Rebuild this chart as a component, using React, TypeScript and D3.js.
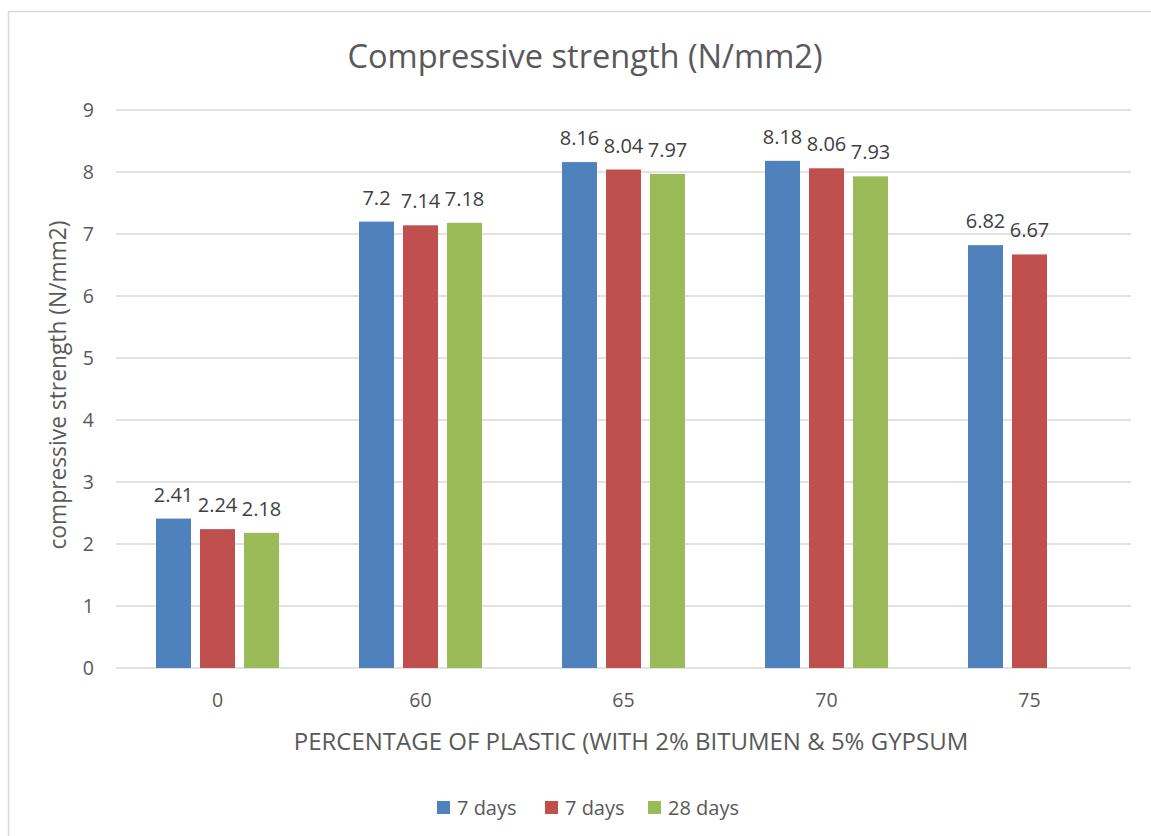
import React from "react";
import * as d3 from "d3";

const categories = ["0", "60", "65", "70", "75"];
const seriesNames = ["7 days", "7 days", "28 days"];
const seriesColors = ["#4F81BD", "#C0504D", "#9BBB59"];
const series1 = [2.41, 7.2, 8.16, 8.18, 6.82];
const series2 = [2.24, 7.14, 8.04, 8.06, 6.67];
const series3: (number | null)[] = [2.18, 7.18, 7.97, 7.93, null];
const yTicks = [0, 1, 2, 3, 4, 5, 6, 7, 8, 9];

const W = 1151, H = 836;
const FONT = "'Open Sans', sans-serif";

export default function App() {
  const left = 116, right = 1131, top = 110, bottom = 668;
  const x = d3.scaleBand().domain(categories).range([left, right]).paddingInner(0).paddingOuter(0);
  const y = d3.scaleLinear().domain([0, 9]).range([bottom, top]);
  const bw = 35, gap = 9;
  const groupW = 3 * bw + 2 * gap;
  const all = [series1, series2, series3];
  const fmt = (v: number) => String(v);

  return (
    <svg width={W} height={H} style={{ position: "absolute", left: 0, top: 0, background: "#fff" }} fontFamily={FONT}>
      <rect x={0} y={0} width={W} height={H} fill="#fff" />
      <rect x={8.5} y={11.5} width={1200} height={900} fill="#fff" stroke="#D9D9D9" strokeWidth={1.5} />
      <text x={585} y={68} textAnchor="middle" fontSize={32.6} fill="#595959">Compressive strength (N/mm2)</text>
      {yTicks.map((t) => (
        <g key={t}>
          <line x1={left} x2={right} y1={y(t)} y2={y(t)} stroke="#D9D9D9" strokeWidth={1.5} />
          <text x={94} y={y(t) + 7} textAnchor="end" fontSize={19.5} fill="#595959">{t}</text>
        </g>
      ))}
      {categories.map((c) => (
        <text key={c} x={(x(c) as number) + x.bandwidth() / 2} y={707} textAnchor="middle" fontSize={19.5} fill="#595959">{c}</text>
      ))}
      {all.map((s, si) =>
        s.map((v, i) => {
          if (v == null) return null;
          const bx = (x(categories[i]) as number) + (x.bandwidth() - groupW) / 2 + si * (bw + gap);
          return (
            <g key={si + "-" + i}>
              <rect x={bx} y={y(v)} width={bw} height={y(0) - y(v)} fill={seriesColors[si]} />
              <text x={bx + bw / 2} y={y(v) - 17} textAnchor="middle" fontSize={20} fill="#404040">{fmt(v)}</text>
            </g>
          );
        })
      )}
      <text transform={`translate(66,${(top + bottom) / 2 - 4}) rotate(-90)`} textAnchor="middle" fontSize={22.8} fill="#595959">compressive strength (N/mm2)</text>
      <text x={631} y={750} textAnchor="middle" fontSize={24} fill="#595959">PERCENTAGE OF PLASTIC (WITH 2% BITUMEN &amp; 5% GYPSUM</text>
      {[437, 545, 648].map((lx, i) => (
        <g key={i}>
          <rect x={lx} y={801} width={13} height={13} fill={seriesColors[i]} />
          <text x={lx + 20} y={815} fontSize={20} fill="#595959">{seriesNames[i]}</text>
        </g>
      ))}
    </svg>
  );
}
